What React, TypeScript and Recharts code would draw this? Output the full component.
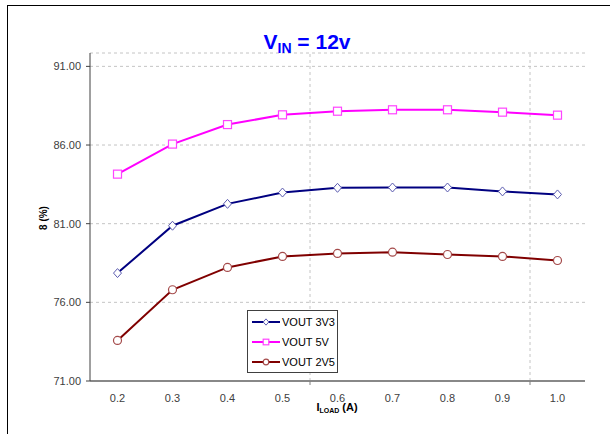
import React from "react";
import { LineChart, Line, XAxis, YAxis, CartesianGrid, ReferenceLine } from "recharts";

const categories = [0.2, 0.3, 0.4, 0.5, 0.6, 0.7, 0.8, 0.9, 1.0];
const vout3v3 = [77.86, 80.87, 82.26, 82.98, 83.28, 83.3, 83.3, 83.05, 82.86];
const vout5v = [84.15, 86.06, 87.3, 87.92, 88.15, 88.24, 88.24, 88.09, 87.9];
const vout2v5 = [73.58, 76.8, 78.22, 78.92, 79.11, 79.19, 79.04, 78.92, 78.66];
const yTicks = [71, 76, 81, 86, 91];
const gridX = [0.55, 0.95];

const FONT = "'Liberation Sans', Arial, sans-serif";

const data = categories.map((x, i) => ({
  x,
  v33: vout3v3[i],
  v5: vout5v[i],
  v25: vout2v5[i],
}));

const series = [
  { key: "v33", name: "VOUT 3V3", color: "#000080", marker: "diamond", mstroke: "#5c5cb0" },
  { key: "v5", name: "VOUT 5V", color: "#ff00ff", marker: "square", mstroke: "#ff44ff" },
  { key: "v25", name: "VOUT 2V5", color: "#800000", marker: "circle", mstroke: "#a44a4a" },
];

function Marker({ kind, cx, cy, stroke, s = 1 }: any) {
  if (kind === "diamond") {
    const pts = `${cx},${cy - 4.5 * s} ${cx + 4 * s},${cy} ${cx},${cy + 4.5 * s} ${cx - 4 * s},${cy}`;
    return <polygon points={pts} fill="#fff" stroke={stroke} strokeWidth={1} />;
  }
  if (kind === "square") {
    return <rect x={cx - 4 * s} y={cy - 4 * s} width={8 * s} height={8 * s} fill="#fff" stroke={stroke} strokeWidth={1.2} />;
  }
  return <circle cx={cx} cy={cy} r={4 * s} fill="#fff" stroke={stroke} strokeWidth={1.2} />;
}

const makeDot = (kind: string, stroke: string) => (props: any) => {
  const { cx, cy, index } = props;
  if (cx == null || cy == null) return <g key={`d-${kind}-${index}`} />;
  return (
    <g key={`d-${kind}-${index}`}>
      <Marker kind={kind} cx={cx} cy={cy} stroke={stroke} />
    </g>
  );
};

const gridSet = new Set(gridX);

const XTick = (props: any) => {
  const { x, y, payload } = props;
  const v = payload.value;
  if (gridSet.has(v)) {
    return <line x1={x} x2={x} y1={y} y2={y + 4} stroke="#808080" strokeWidth={1} />;
  }
  return (
    <text x={x} y={y + 21} textAnchor="middle" fontSize={11} fill="#404040" fontFamily={FONT}>
      {Number(v).toFixed(1)}
    </text>
  );
};

export default function App() {
  return (
    <div style={{ position: "absolute", left: 0, top: 0, width: 610, height: 434, background: "#fff", fontFamily: FONT }}>
      <div
        style={{
          position: "absolute",
          left: 7,
          top: 5,
          width: 603,
          height: 429,
          borderTop: "1px solid #000",
          borderLeft: "1px solid #000",
          boxSizing: "border-box",
        }}
      />
      <LineChart width={610} height={434} data={data} margin={{ top: 53, right: 25, bottom: 0, left: 0 }}>
        <CartesianGrid horizontal={true} vertical={false} stroke="#c4c4c4" strokeDasharray="3 3" />
        <ReferenceLine x={gridX[0]} stroke="#c4c4c4" strokeDasharray="3 3" />
        <ReferenceLine x={gridX[1]} stroke="#c4c4c4" strokeDasharray="3 3" />
        <XAxis
          type="number"
          dataKey="x"
          domain={[0.15, 1.05]}
          ticks={[...categories, ...gridX]}
          interval={0}
          height={53}
          tickSize={0}
          tickMargin={0}
          tickLine={false}
          tick={<XTick />}
          axisLine={{ stroke: "#888", strokeWidth: 2 }}
          allowDataOverflow
        />
        <YAxis
          type="number"
          domain={[71, 91.85]}
          ticks={yTicks}
          interval={0}
          width={90}
          tickSize={4}
          tickMargin={5}
          tickFormatter={(v: number) => v.toFixed(2)}
          tick={{ fontSize: 11, fill: "#404040", fontFamily: FONT }}
          tickLine={{ stroke: "#404040" }}
          axisLine={{ stroke: "#404040" }}
          allowDataOverflow
        />
        {series.map((s) => (
          <Line
            key={s.key}
            type="linear"
            dataKey={s.key}
            name={s.name}
            stroke={s.color}
            strokeWidth={2}
            dot={makeDot(s.marker, s.mstroke)}
            activeDot={false}
            isAnimationActive={false}
          />
        ))}
      </LineChart>

      {/* Title */}
      <div
        style={{
          position: "absolute",
          left: 0,
          width: 614,
          top: 31,
          textAlign: "center",
          color: "#0000ff",
          fontWeight: "bold",
          fontSize: 21,
          lineHeight: "21px",
          whiteSpace: "nowrap",
        }}
      >
        V<span style={{ fontSize: 14, position: "relative", top: 4 }}>IN</span> = 12v
      </div>

      {/* Y label */}
      <div
        style={{
          position: "absolute",
          left: 43,
          top: 218,
          transform: "translate(-50%, -50%) rotate(-90deg)",
          fontSize: 10,
          fontWeight: "bold",
          color: "#000",
          whiteSpace: "nowrap",
        }}
      >
        8 (%)
      </div>

      {/* X label */}
      <div
        style={{
          position: "absolute",
          left: 337,
          top: 407,
          transform: "translate(-50%, -50%)",
          fontSize: 11,
          fontWeight: "bold",
          color: "#000",
          whiteSpace: "nowrap",
        }}
      >
        I<span style={{ fontSize: 7, position: "relative", top: 2 }}>LOAD</span> (A)
      </div>

      {/* Legend */}
      <div
        style={{
          position: "absolute",
          left: 247,
          top: 310,
          width: 91,
          height: 63,
          boxSizing: "border-box",
          border: "1px solid #404040",
          background: "#fff",
        }}
      >
        {series.map((s, i) => (
          <div
            key={s.key}
            style={{
              position: "absolute",
              left: 3,
              top: 10.5 + i * 20.2 - 6,
              height: 12,
              display: "flex",
              alignItems: "center",
              whiteSpace: "nowrap",
            }}
          >
            <svg width={30} height={12} style={{ display: "block" }}>
              <line x1={1} x2={29} y1={6} y2={6} stroke={s.color} strokeWidth={2} />
              <Marker kind={s.marker} cx={15} cy={6} stroke={s.mstroke} s={0.7} />
            </svg>
            <span style={{ fontSize: 11, color: "#000", marginLeft: 1 }}>{s.name}</span>
          </div>
        ))}
      </div>
    </div>
  );
}
